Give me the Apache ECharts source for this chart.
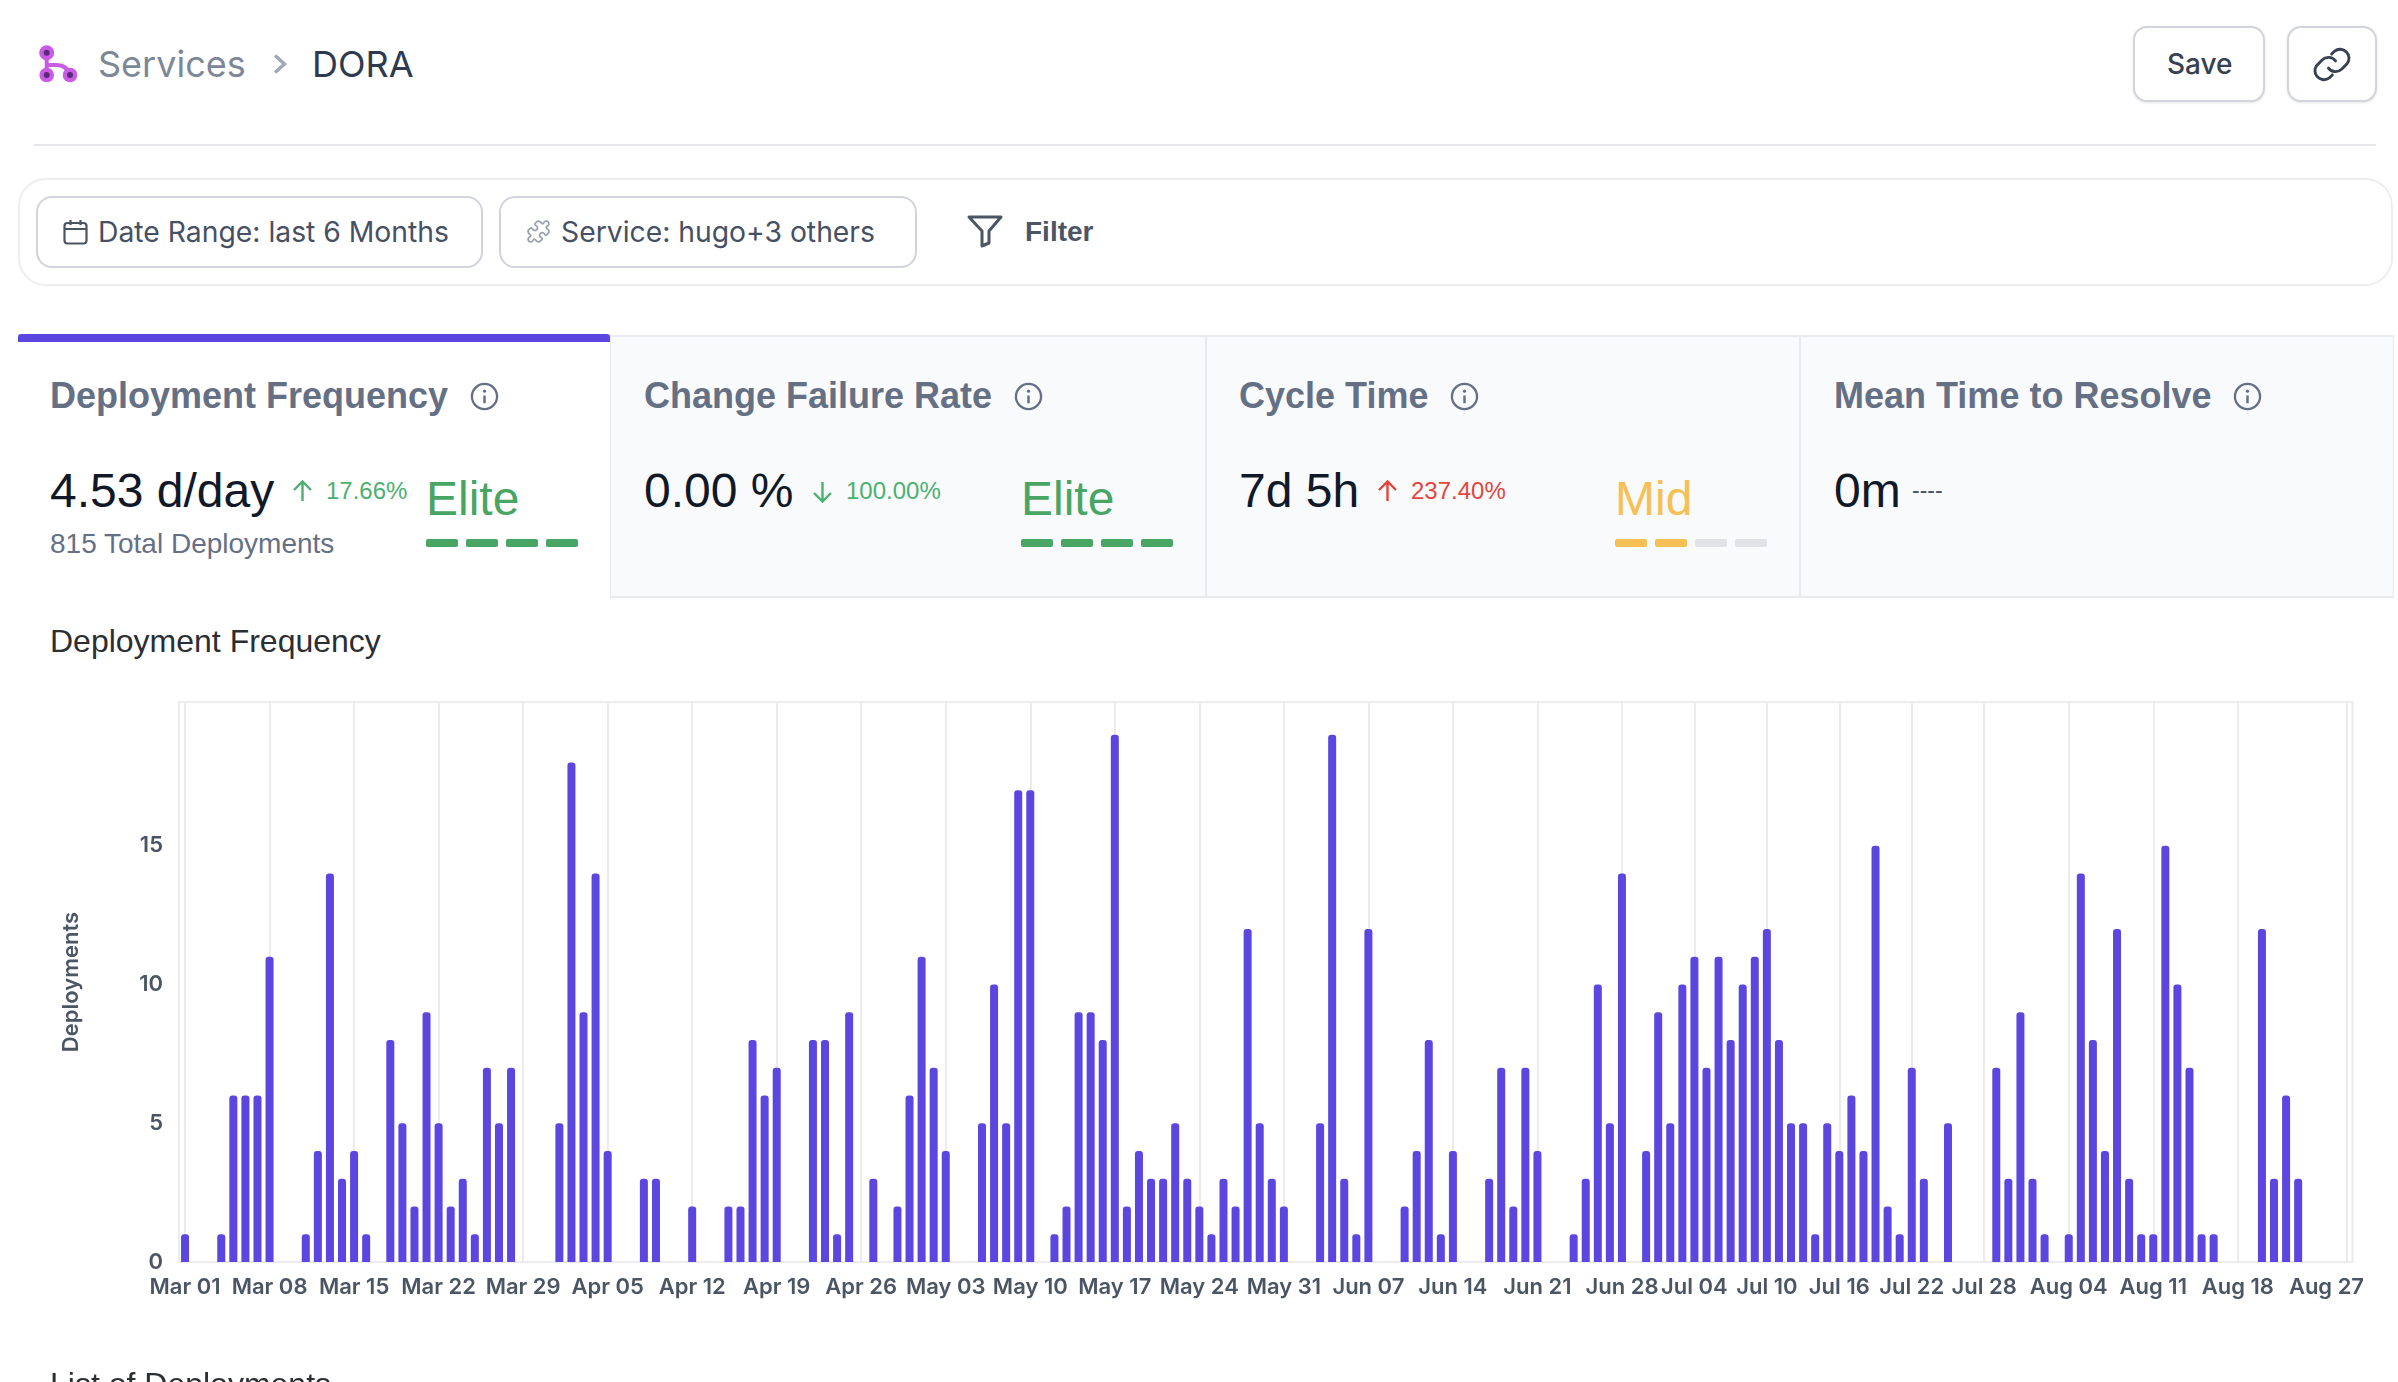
<!DOCTYPE html>
<html>
<head>
<meta charset="utf-8">
<title>DORA</title>
<script src="https://cdn.jsdelivr.net/npm/echarts@6/dist/echarts.min.js"></script>
<style>
html,body{margin:0;padding:0;width:2398px;height:1382px;overflow:hidden;background:#fff;font-family:Inter,sans-serif;}
.t{position:absolute;white-space:nowrap;transform:translateY(-50%);line-height:1.2;}
.h{font-family:"Liberation Sans",Arial,sans-serif;}
.box{position:absolute;box-sizing:border-box;}
.tab{position:absolute;top:335px;height:263px;box-sizing:border-box;background:#f9fafc;border:2px solid #e8eaee;border-left-width:1px;border-right-width:1px;}
.title{font-size:36px;font-weight:700;color:#667085;}
.val{font-size:48px;color:#111827;}
.chg{font-size:24px;}
.grade{font-size:48px;}
.seg{position:absolute;top:539px;width:32px;height:8px;border-radius:2px;}
.btn{position:absolute;box-sizing:border-box;background:#fff;border:2px solid #d1d5db;}
svg{position:absolute;overflow:visible;fill:none;}
#chart{position:absolute;left:0;top:660px;width:2398px;height:722px;}
</style>
</head>
<body>
<svg style="left:38px;top:45px" width="40" height="37" viewBox="0 0 40 37">
  <path d="M8.700 8 V30 M8.700 20 H18 Q29 20 32 30" stroke="#c95be5" stroke-width="4"/>
  <circle cx="8.700" cy="7.700" r="7.500" fill="#c95be5"/><circle cx="8.700" cy="7.700" r="3" fill="#5b2a78"/>
  <circle cx="8.700" cy="30" r="7.300" fill="#c95be5"/><circle cx="8.700" cy="30" r="3" fill="#5b2a78"/>
  <circle cx="32" cy="30" r="7.300" fill="#c95be5"/><circle cx="32" cy="30" r="3" fill="#5b2a78"/>
</svg>
<div class="t" style="left:98px;top:65px;font-size:36px;color:#7d8798">Services</div>
<svg style="left:273px;top:54px" width="14" height="20" viewBox="0 0 14 20"><path d="M2 1.500 L11.500 10 L2 18.500" stroke="#a0a8b8" stroke-width="3.400"/></svg>
<div class="t" style="left:312px;top:65px;font-size:36px;color:#2d3a50">DORA</div>
<div class="btn" style="left:2133px;top:26px;width:132px;height:76px;border-radius:14px;box-shadow:0 1px 3px rgba(0,0,0,.1)"></div>
<div class="t" style="left:2167px;top:65px;font-size:28px;font-weight:500;color:#374151">Save</div>
<div class="btn" style="left:2287px;top:26px;width:90px;height:76px;border-radius:14px;box-shadow:0 1px 3px rgba(0,0,0,.1)"></div>
<svg style="left:2310px;top:43px" width="44" height="43" viewBox="0 0 24 24"><path d="M10 14a5 5 0 0 0 7.500.5l3-3a5 5 0 0 0-7-7l-1.700 1.700M14 10a5 5 0 0 0-7.500-.5l-3 3a5 5 0 0 0 7 7l1.700-1.700" stroke="#374151" stroke-width="1.600" stroke-linecap="round"/></svg>
<div class="box" style="left:34px;top:144px;width:2342px;height:2px;background:#e5e7eb"></div>

<div class="box" style="left:18px;top:178px;width:2375px;height:108px;border:2px solid #eceef1;border-radius:28px"></div>
<div class="btn" style="left:36px;top:196px;width:447px;height:72px;border-radius:16px"></div>
<svg style="left:63px;top:219px" width="25" height="26" viewBox="0 0 25 26"><rect x="1.500" y="4" width="22" height="20.500" rx="3" stroke="#4b5563" stroke-width="2.200"/><path d="M1.500 10 H23.500 M7.500 1 V6 M17.500 1 V6" stroke="#4b5563" stroke-width="2.200"/></svg>
<div class="t" style="left:98px;top:233px;font-size:28.300px;color:#475063">Date Range: last 6 Months</div>
<div class="btn" style="left:499px;top:196px;width:418px;height:72px;border-radius:16px"></div>
<svg style="left:526px;top:219px" width="25" height="25" viewBox="0 0 24 24"><path d="M19.439 7.850c-.049.322.059.648.289.878l1.568 1.568c.47.47.706 1.087.706 1.704s-.235 1.233-.706 1.704l-1.611 1.611a.98.98 0 0 1-.837.276c-.47-.07-.802-.48-.968-.925a2.501 2.501 0 1 0-3.214 3.214c.446.166.855.497.925.968a.979.979 0 0 1-.276.837l-1.610 1.610a2.404 2.404 0 0 1-1.705.707 2.402 2.402 0 0 1-1.704-.706l-1.568-1.568a1.026 1.026 0 0 0-.877-.29c-.493.074-.84.504-1.020.968a2.500 2.500 0 1 1-3.237-3.237c.464-.18.894-.527.967-1.020a1.026 1.026 0 0 0-.289-.877l-1.568-1.568A2.402 2.402 0 0 1 1.998 12c0-.617.236-1.234.706-1.704L4.230 8.770c.24-.24.581-.353.917-.303.515.077.877.528 1.073 1.010a2.500 2.500 0 1 0 3.259-3.259c-.482-.196-.933-.558-1.010-1.073-.05-.336.062-.676.303-.917l1.525-1.525A2.402 2.402 0 0 1 12 1.998c.617 0 1.234.236 1.704.706l1.568 1.568c.23.23.556.338.878.29.493-.074.84-.504 1.020-.968a2.500 2.500 0 1 1 3.237 3.237c-.464.18-.894.527-.968 1.020Z" stroke="#9ca3af" stroke-width="1.700"/></svg>
<div class="t" style="left:561px;top:233px;font-size:28.300px;color:#475063">Service: hugo+3 others</div>
<svg style="left:967px;top:215px" width="36" height="33" viewBox="0 0 36 33"><path d="M2 2 H34 L22 16 V28 L15 31 V16 Z" stroke="#4b5563" stroke-width="3" stroke-linejoin="round"/></svg>
<div class="t h" style="left:1025px;top:232px;font-size:28px;font-weight:700;color:#4b5563">Filter</div>

<div class="box" style="left:18px;top:334px;width:592px;height:264px;background:#fff"></div>
<div class="box" style="left:18px;top:334px;width:592px;height:8px;background:#5b46e0;border-radius:3px 3px 0 0"></div>
<div class="tab" style="left:610px;width:596px"></div>
<div class="tab" style="left:1206px;width:594px"></div>
<div class="tab" style="left:1800px;width:594px"></div>

<svg width="0" height="0"><defs>
<symbol id="info" viewBox="0 0 30 30"><circle cx="15" cy="15" r="13" stroke="#667085" stroke-width="2.400" fill="none"/><path d="M15 14 V22" stroke="#667085" stroke-width="2.600"/><circle cx="15" cy="9.500" r="1.700" fill="#667085"/></symbol>
</defs></svg>

<div class="t h title" style="left:50px;top:396px">Deployment Frequency</div>
<svg style="left:470px;top:382px" width="29" height="29"><use href="#info"/></svg>
<div class="t h val" style="left:50px;top:491px">4.53 d/day</div>
<svg style="left:291px;top:480px" width="23" height="22" viewBox="0 0 23 22"><path d="M11.500 21 V2 M3 10 L11.500 1.500 L20 10" stroke="#4cb070" stroke-width="2.400"/></svg>
<div class="t h chg" style="left:326px;top:491px;color:#4cb070">17.66%</div>
<div class="t h" style="left:50px;top:544px;font-size:28px;color:#667085">815 Total Deployments</div>
<div class="t h grade" style="left:426px;top:499px;color:#49a564">Elite</div>
<div class="seg" style="left:426px;background:#49a564"></div><div class="seg" style="left:466px;background:#49a564"></div><div class="seg" style="left:506px;background:#49a564"></div><div class="seg" style="left:546px;background:#49a564"></div>

<div class="t h title" style="left:644px;top:396px">Change Failure Rate</div>
<svg style="left:1014px;top:382px" width="29" height="29"><use href="#info"/></svg>
<div class="t h val" style="left:644px;top:491px">0.00 %</div>
<svg style="left:811px;top:481px" width="23" height="22" viewBox="0 0 23 22"><path d="M11.500 1 V20 M3 12 L11.500 20.500 L20 12" stroke="#4cb070" stroke-width="2.400"/></svg>
<div class="t h chg" style="left:846px;top:491px;color:#4cb070">100.00%</div>
<div class="t h grade" style="left:1021px;top:499px;color:#49a564">Elite</div>
<div class="seg" style="left:1021px;background:#49a564"></div><div class="seg" style="left:1061px;background:#49a564"></div><div class="seg" style="left:1101px;background:#49a564"></div><div class="seg" style="left:1141px;background:#49a564"></div>

<div class="t h title" style="left:1239px;top:396px">Cycle Time</div>
<svg style="left:1450px;top:382px" width="29" height="29"><use href="#info"/></svg>
<div class="t h val" style="left:1239px;top:491px">7d 5h</div>
<svg style="left:1376px;top:480px" width="23" height="22" viewBox="0 0 23 22"><path d="M11.500 21 V2 M3 10 L11.500 1.500 L20 10" stroke="#e5443c" stroke-width="2.400"/></svg>
<div class="t h chg" style="left:1411px;top:491px;color:#e5443c">237.40%</div>
<div class="t h grade" style="left:1615px;top:499px;color:#f6c055">Mid</div>
<div class="seg" style="left:1615px;background:#f6c055"></div><div class="seg" style="left:1655px;background:#f6c055"></div><div class="seg" style="left:1695px;background:#e1e2e5"></div><div class="seg" style="left:1735px;background:#e1e2e5"></div>

<div class="t h title" style="left:1834px;top:396px">Mean Time to Resolve</div>
<svg style="left:2233px;top:382px" width="29" height="29"><use href="#info"/></svg>
<div class="t h val" style="left:1834px;top:491px">0m</div>
<div class="t h" style="left:1912px;top:491px;font-size:23px;color:#4b5563">----</div>

<div class="t h" style="left:50px;top:641px;font-size:32px;color:#2b2e33">Deployment Frequency</div>
<div id="chart"></div>
<div class="t h" style="left:50px;top:1384px;font-size:32px;color:#2b2e33">List of Deployments</div>

<script>
var categories = [
"Mar 01","Mar 02","Mar 03","Mar 04","Mar 05","Mar 06","Mar 07","Mar 08","Mar 09","Mar 10","Mar 11","Mar 12","Mar 13","Mar 14","Mar 15","Mar 16","Mar 17","Mar 18","Mar 19","Mar 20","Mar 21","Mar 22","Mar 23","Mar 24","Mar 25","Mar 26","Mar 27","Mar 28","Mar 29","Mar 30","Mar 31",
"Apr 01","Apr 02","Apr 03","Apr 04","Apr 05","Apr 06","Apr 07","Apr 08","Apr 09","Apr 10","Apr 11","Apr 12","Apr 13","Apr 14","Apr 15","Apr 16","Apr 17","Apr 18","Apr 19","Apr 20","Apr 21","Apr 22","Apr 23","Apr 24","Apr 25","Apr 26","Apr 27","Apr 28","Apr 29","Apr 30",
"May 01","May 02","May 03","May 04","May 05","May 06","May 07","May 08","May 09","May 10","May 11","May 12","May 13","May 14","May 15","May 16","May 17","May 18","May 19","May 20","May 21","May 22","May 23","May 24","May 25","May 26","May 27","May 28","May 29","May 30","May 31",
"Jun 01","Jun 02","Jun 03","Jun 04","Jun 05","Jun 06","Jun 07","Jun 08","Jun 09","Jun 10","Jun 11","Jun 12","Jun 13","Jun 14","Jun 15","Jun 16","Jun 17","Jun 18","Jun 19","Jun 20","Jun 21","Jun 22","Jun 23","Jun 24","Jun 25","Jun 26","Jun 27","Jun 28","Jun 29","Jun 30",
"Jul 01","Jul 02","Jul 03","Jul 04","Jul 05","Jul 06","Jul 07","Jul 08","Jul 09","Jul 10","Jul 11","Jul 12","Jul 13","Jul 14","Jul 15","Jul 16","Jul 17","Jul 18","Jul 19","Jul 20","Jul 21","Jul 22","Jul 23","Jul 24","Jul 25","Jul 26","Jul 27","Jul 28","Jul 29","Jul 30","Jul 31",
"Aug 01","Aug 02","Aug 03","Aug 04","Aug 05","Aug 06","Aug 07","Aug 08","Aug 09","Aug 10","Aug 11","Aug 12","Aug 13","Aug 14","Aug 15","Aug 16","Aug 17","Aug 18","Aug 19","Aug 20","Aug 21","Aug 22","Aug 23","Aug 24","Aug 25","Aug 26","Aug 27"
];
var deployments = [
1,0,0,1,6,6,6,11,0,0,
1,4,14,3,4,1,0,8,5,2,
9,5,2,3,1,7,5,7,0,0,
0,5,18,9,14,4,0,0,3,3,
0,0,2,0,0,2,2,8,6,7,
0,0,8,8,1,9,0,3,0,2,
6,11,7,4,0,0,5,10,5,17,
17,0,1,2,9,9,8,19,2,4,
3,3,5,3,2,1,3,2,12,5,
3,2,0,0,5,19,3,1,12,0,
0,2,4,8,1,4,0,0,3,7,
2,7,4,0,0,1,3,10,5,14,
0,4,9,5,10,11,7,11,8,10,
11,12,8,5,5,1,5,4,6,4,
15,2,1,7,3,0,5,0,0,0,
7,3,9,3,1,0,1,14,8,4,
12,3,1,1,15,10,7,1,1,0,
0,0,12,3,6,3,0,0,0,0
];
var xTickLabels = ["Mar 01","Mar 08","Mar 15","Mar 22","Mar 29","Apr 05","Apr 12","Apr 19","Apr 26","May 03","May 10","May 17","May 24","May 31","Jun 07","Jun 14","Jun 21","Jun 28","Jul 04","Jul 10","Jul 16","Jul 22","Jul 28","Aug 04","Aug 11","Aug 18","Aug 27"];
var yTickLabels = [0,5,10,15];

function isTick(i, v){ return xTickLabels.indexOf(v) >= 0; }
var chart = echarts.init(document.getElementById('chart'), null, {renderer:'canvas'});
var labelFont = {color:'#4b5563',fontSize:22,fontWeight:600,fontFamily:'Inter'};
chart.setOption({
  animation:false,
  textStyle:{fontFamily:'Inter'},
  grid:{left:179,right:45.500,top:42,height:560,show:true,borderColor:'#ebebf2',borderWidth:2,containLabel:false},
  tooltip:{show:false},
  xAxis:{
    type:'category',data:categories,
    axisLine:{show:true,lineStyle:{color:'#ebebf2',width:2}},
    axisTick:{show:false},
    axisLabel:Object.assign({
      interval:isTick,hideOverlap:false,margin:14,
      formatter:function(v){ return v === xTickLabels[xTickLabels.length-1] ? '{last|'+v+'}' : v; },
      rich:{last:Object.assign({padding:[0,40,0,0]},labelFont)}
    },labelFont),
    splitLine:{show:true,interval:isTick,alignWithLabel:true,lineStyle:{color:'#ebebf2',width:2}}
  },
  yAxis:{
    type:'value',min:0,max:20.18,interval:5,
    name:'Deployments',nameLocation:'middle',nameGap:96.500,nameRotate:90,
    nameTextStyle:labelFont,
    axisLine:{show:false},axisTick:{show:false},splitLine:{show:false},
    axisLabel:Object.assign({customValues:yTickLabels,margin:16,padding:[4,0,0,0]},labelFont)
  },
  series:[{type:'bar',data:deployments,barWidth:8,itemStyle:{color:'#5b46e0',borderRadius:[3,3,0,0]}}]
});
</script>
</body>
</html>
